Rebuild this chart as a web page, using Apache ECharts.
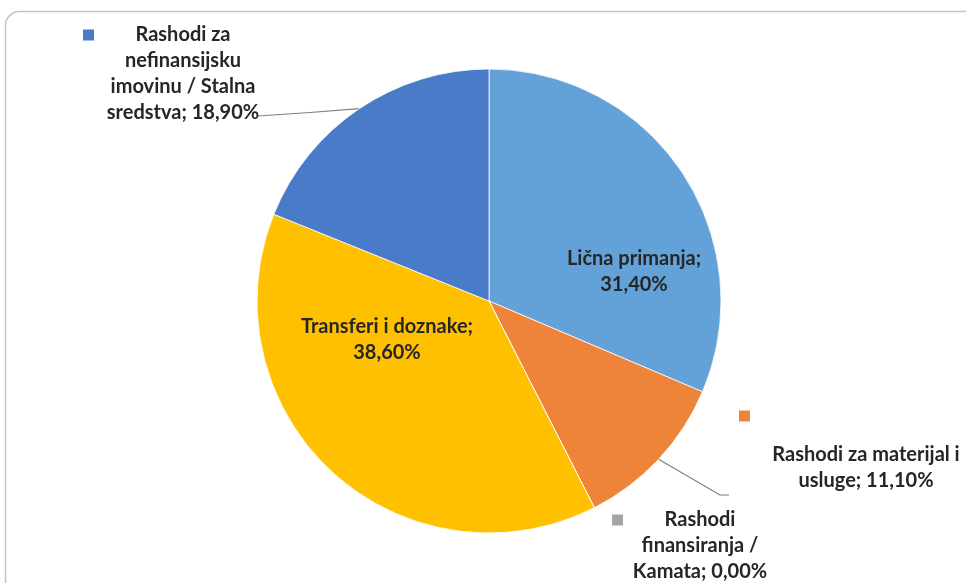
<!DOCTYPE html>
<html><head><meta charset="utf-8">
<script src="https://cdn.jsdelivr.net/npm/echarts@6/dist/echarts.min.js"></script>
<style>html,body{margin:0;padding:0;background:#fff}#c{width:966px;height:583px}</style>
</head><body><div id="c"></div>
<script>
const categories = ['Lična primanja', 'Rashodi za materijal i usluge', 'Rashodi finansiranja / Kamata', 'Transferi i doznake', 'Rashodi za nefinansijsku imovinu / Stalna sredstva'];
const values = [31.4, 11.1, 0.0, 38.6, 18.9];
const colors = ['#63A2D8', '#EE8439', '#A5A5A5', '#FFC000', '#4A7BC8'];
// how each label's text is wrapped (@v = value)
const labelLines = [
  ['Lična primanja;', '@v'],
  ['Rashodi za materijal i', 'usluge; @v'],
  ['Rashodi', 'finansiranja /', 'Kamata; @v'],
  ['Transferi i doznake;', '@v'],
  ['Rashodi za', 'nefinansijsku', 'imovinu / Stalna', 'sredstva; @v']
];
// label placement (layout only)
const labelPlace = [
  {kind: 'inner', x: 634, y: 272},
  {kind: 'keyAbove', x: 739, y: 403, w: 254},
  {kind: 'keyInline', x: 612, y: 507, w: 176},
  {kind: 'inner', x: 387, y: 340},
  {kind: 'keyInline', x: 83, y: 22, w: 200}
];
const leaderTail = {1: [[720, 495], [729, 495]], 4: [[310, 112.5], [258, 116]]};

function fmt(v) { return v.toFixed(2).replace('.', ',') + '%'; }

const rich = {
  t: {fontFamily: 'Lato', fontWeight: 'bold', fontSize: 20, color: '#262626', lineHeight: 26, align: 'center'},
  r: {width: 11, height: 11, align: 'right', fontSize: 1},
  gap: {lineHeight: 13, fontSize: 1, height: 13}
};
colors.forEach((c, i) => { rich['k' + i] = {width: 11, height: 11, backgroundColor: c, align: 'left', fontSize: 1}; });

const chart = echarts.init(document.getElementById('c'), null, {renderer: 'canvas'});
chart.setOption({
  backgroundColor: '#fff',
  animation: false,
  graphic: [{type: 'rect', z: -1, shape: {x: 5.5, y: 11.5, width: 985, height: 600, r: 14},
    style: {fill: 'none', stroke: '#c4c4c4', lineWidth: 1.5}}],
  series: [{
    type: 'pie',
    center: [489, 301],
    radius: 232,
    startAngle: 90,
    clockwise: true,
    avoidLabelOverlap: false,
    minShowLabelAngle: 0,
    itemStyle: {borderColor: '#fff', borderWidth: 0.8},
    label: {
      show: true,
      position: 'outside',
      lineHeight: 26,
      overflow: 'none',
      rich: rich,
      formatter: function (p) {
        const i = p.dataIndex;
        const lines = labelLines[i].map(s => s.replace('@v', fmt(values[i])));
        const k = labelPlace[i].kind;
        if (k === 'inner') return lines.map(s => '{t|' + s + '}').join('\n');
        if (k === 'keyAbove') return '{k' + i + '| }{r| }\n{gap| }\n' + lines.map(s => '{t|' + s + '}').join('\n');
        return '{k' + i + '| }{t|' + lines[0] + '}{r| }\n' + lines.slice(1).map(s => '{t|' + s + '}').join('\n');
      }
    },
    labelLine: {show: true, length: 20, length2: 20, lineStyle: {color: '#7f7f7f', width: 1.2}},
    labelLayout: function (params) {
      const i = params.dataIndex;
      const pl = labelPlace[i];
      const o = {x: pl.x, y: pl.y,
        align: pl.kind === 'inner' ? 'center' : 'left',
        verticalAlign: pl.kind === 'inner' ? 'middle' : 'top'};
      if (leaderTail[i] && params.labelLinePoints) {
        o.labelLinePoints = [params.labelLinePoints[0], leaderTail[i][0], leaderTail[i][1]];
      }
      return o;
    },
    data: categories.map((name, i) => {
      const pl = labelPlace[i];
      const item = {name: name, value: values[i], itemStyle: {color: colors[i]}};
      item.label = pl.w ? {width: pl.w} : {};
      if (!leaderTail[i]) item.labelLine = {show: false};
      return item;
    })
  }]
});
</script></body></html>
